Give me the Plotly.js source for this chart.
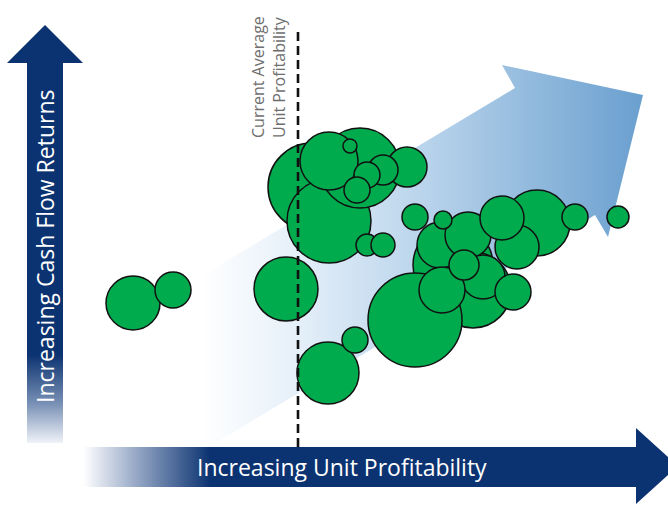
<!DOCTYPE html>
<html>
<head>
<meta charset="utf-8">
<script src="https://cdn.plot.ly/plotly-3.0.1.min.js"></script>
<style>html,body{margin:0;padding:0;background:#fff;}#chart{width:668px;height:505px;}</style>
</head>
<body>
<div id="chart"></div>
<script>
// Bubble data (arbitrary units: x = unit profitability, y = cash flow returns, size = bubble diameter)
const unitProfit = [133,173, 286,328,355, 312,329,360,329,407,383,367,357,350,367,383,
  453,473,537,415,440,468,517,502,483,442,513,464,415,443,575,618];
const cashFlow   = [202,215, 216,132,165, 318,284,337,344,338,335,330,315,359,260,260,
  240,215,282,185,260,270,258,287,228,215,213,240,288,285,288,288];
const bubbleSize = [54,36, 64,62,26, 88,84,80,58,40,30,26,26,14,22,24,
  80,76,66,94,46,46,44,44,44,46,36,30,26,18,26,22];

// Reference line: current average unit profitability
const avgProfit = 298;

// Labels
const xLabel = "Increasing Unit Profitability";
const yLabel = "Increasing Cash Flow Returns";
const avgLabel = "Current Average<br>Unit Profitability";

// Decorative arrow outlines
const bigArrowX = [130,515,502,643,608,595,207,130];
const bigArrowY = [186,417,440,410,268,290,57,186];
const leftArrowX = [27,27,7,45,83,63,63,27];
const leftArrowY = [62,442,442,480,442,442,62,62];
const bottomArrowX = [83,636,636,678,636,636,83,83];
const bottomArrowY = [58,58,77,39,1,18,18,58];

const navy = '#0c3371';

const traces = [
  {x: bigArrowX, y: bigArrowY, type:'scatter', mode:'lines', fill:'toself', line:{width:0},
   fillgradient:{type:'horizontal', start:130, stop:643,
     colorscale:[[0,'#ffffff'],[0.14,'#ffffff'],[0.32,'#e6f0f9'],[0.58,'#b8d3eb'],[1,'#6a9fcf']]},
   hoverinfo:'skip', showlegend:false},
  {x: leftArrowX, y: leftArrowY, type:'scatter', mode:'lines', fill:'toself', line:{width:0},
   fillgradient:{type:'vertical', start:62, stop:150,
     colorscale:[[0,'#f0f3f8'],[0.45,'#7890b5'],[1,navy]]},
   hoverinfo:'skip', showlegend:false},
  {x: bottomArrowX, y: bottomArrowY, type:'scatter', mode:'lines', fill:'toself', line:{width:0},
   fillgradient:{type:'horizontal', start:83, stop:210,
     colorscale:[[0,'#ffffff'],[0.45,'#8fa2c2'],[1,navy]]},
   hoverinfo:'skip', showlegend:false},
  {x: unitProfit, y: cashFlow, type:'scatter', mode:'markers',
   marker:{size: bubbleSize, sizemode:'diameter', sizeref:1, color:'#00ab4e', opacity:1,
     line:{color:'#111111', width:1.5}},
   hoverinfo:'skip', showlegend:false, cliponaxis:false}
];

const layout = {
  width:668, height:505,
  margin:{l:0,r:0,t:0,b:0,pad:0},
  paper_bgcolor:'#ffffff', plot_bgcolor:'#ffffff',
  xaxis:{range:[0,668], visible:false, fixedrange:true},
  yaxis:{range:[0,505], visible:false, fixedrange:true},
  showlegend:false,
  shapes:[
    {type:'line', xref:'x', yref:'y', x0:avgProfit, x1:avgProfit, y0:58, y1:475, layer:'above',
     line:{color:'#111111', width:2.6, dash:'9px,5px'}}
  ],
  annotations:[
    {text:yLabel, x:45, y:258, xref:'x', yref:'y', showarrow:false, textangle:-90,
     font:{family:'Open Sans, sans-serif', size:23, color:'#ffffff'}},
    {text:xLabel, x:342, y:38, xref:'x', yref:'y', showarrow:false,
     font:{family:'Open Sans, sans-serif', size:23, color:'#ffffff'}},
    {text:avgLabel, x:268, y:428, xref:'x', yref:'y', showarrow:false, textangle:-90, align:'left',
     font:{family:'Open Sans, sans-serif', size:16, color:'#6e6e6e'}}
  ]
};

Plotly.newPlot('chart', traces, layout, {staticPlot:true, displayModeBar:false});
</script>
</body>
</html>
